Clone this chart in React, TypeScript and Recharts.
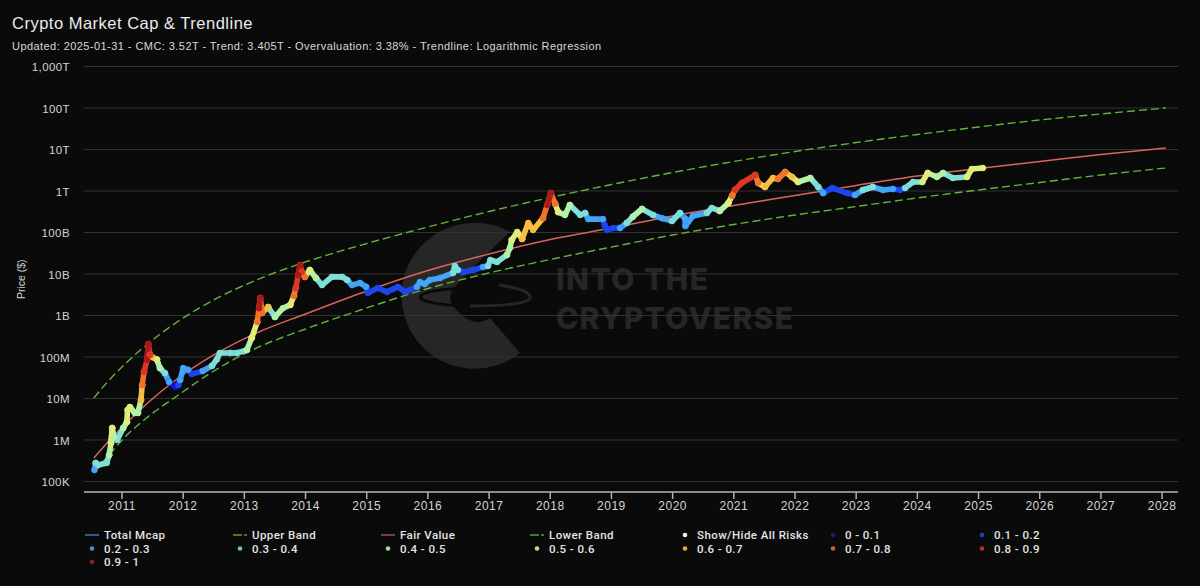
import { CartesianGrid, ComposedChart, Line, XAxis, YAxis } from "recharts";

const FONT = '"Liberation Sans", Arial, sans-serif';
const BG = "#0a0a0a";

const xTicks = [2011, 2012, 2013, 2014, 2015, 2016, 2017, 2018, 2019, 2020, 2021, 2022, 2023, 2024, 2025, 2026, 2027, 2028];
const yTicks = [1e5, 1e6, 1e7, 1e8, 1e9, 1e10, 1e11, 1e12, 1e13, 1e14, 1e15];
const yLabels = ["100K", "1M", "10M", "100M", "1B", "10B", "100B", "1T", "10T", "100T", "1,000T"];

// trend lines
const bandYears = [2010.54, 2010.8, 2011.05, 2011.4, 2011.9, 2012.5, 2013.2, 2014, 2015, 2016, 2017, 2018, 2019, 2020, 2021, 2022, 2023, 2024, 2025, 2026, 2027, 2028.06];
const upperBand = [1.03e7, 2.87e7, 6.8e7, 1.95e8, 6.97e8, 2.36e9, 7.2e9, 1.95e10, 5.43e10, 1.36e11, 3.21e11, 6.97e11, 1.43e12, 2.79e12, 5.14e12, 8.95e12, 1.47e13, 2.3e13, 3.49e13, 5.14e13, 7.2e13, 1e14];
const fairValue = [3.68e5, 1e6, 2.36e6, 7.37e6, 2.95e7, 1.12e8, 3.79e8, 1.09e9, 3.9e9, 1.21e10, 3.03e10, 6.8e10, 1.28e11, 2.5e11, 4.47e11, 7.79e11, 1.36e12, 2.3e12, 3.49e12, 5.14e12, 7.58e12, 1.09e13];
const lowerBand = [1.6e5, 4.6e5, 1.18e6, 3.39e6, 1.15e7, 4.6e7, 1.65e8, 4.73e8, 1.52e9, 4.47e9, 1.06e10, 2.24e10, 4.47e10, 8.7e10, 1.56e11, 2.64e11, 4.23e11, 6.8e11, 1.06e12, 1.6e12, 2.43e12, 3.58e12];

// total market cap and the risk bucket (0 = 0-0.1 ... 9 = 0.9-1) of each point
const mcapYears = [
  2010.55, 2010.57, 2010.61, 2010.75, 2010.79, 2010.82, 2010.84, 2010.87, 2010.92, 2011.02,
  2011.08, 2011.09, 2011.13, 2011.21, 2011.26, 2011.31, 2011.33, 2011.36, 2011.41, 2011.43,
  2011.46, 2011.49, 2011.57, 2011.62, 2011.7, 2011.77, 2011.87, 2011.92, 2011.95, 2012.0,
  2012.08, 2012.14, 2012.32, 2012.47, 2012.55, 2012.6, 2012.77, 2012.88, 2013.04, 2013.12,
  2013.21, 2013.24, 2013.26, 2013.29, 2013.39, 2013.5, 2013.63, 2013.75, 2013.81, 2013.84,
  2013.88, 2013.91, 2013.94, 2013.99, 2014.07, 2014.17, 2014.27, 2014.43, 2014.6, 2014.68,
  2014.76, 2014.89, 2014.99, 2015.02, 2015.18, 2015.33, 2015.51, 2015.63, 2015.82, 2015.87,
  2015.95, 2016.03, 2016.2, 2016.41, 2016.44, 2016.49, 2016.57, 2016.74, 2016.9, 2016.98,
  2017.02, 2017.13, 2017.29, 2017.34, 2017.37, 2017.46, 2017.54, 2017.64, 2017.72, 2017.88,
  2017.95, 2018.01, 2018.08, 2018.13, 2018.24, 2018.32, 2018.49, 2018.57, 2018.62, 2018.86,
  2018.89, 2018.93, 2019.03, 2019.14, 2019.25, 2019.35, 2019.5, 2019.68, 2019.83, 2019.99,
  2020.12, 2020.2, 2020.21, 2020.33, 2020.56, 2020.64, 2020.77, 2020.91, 2020.97, 2021.02,
  2021.13, 2021.35, 2021.4, 2021.51, 2021.64, 2021.72, 2021.84, 2021.95, 2022.05, 2022.25,
  2022.38, 2022.46, 2022.61, 2022.85, 2022.98, 2023.11, 2023.27, 2023.44, 2023.6, 2023.72,
  2023.8, 2023.93, 2024.08, 2024.17, 2024.32, 2024.42, 2024.58, 2024.81, 2024.89, 2025.07,
];
const mcapValues = [
  1.9e5, 2.8e5, 2.5e5, 2.8e5, 4.35e5, 8.5e5, 1.95e6, 1.18e6, 1.0e6, 1.95e6,
  2.7e6, 5.3e6, 6.2e6, 4.5e6, 4.5e6, 9.2e6, 2.1e7, 4.35e7, 8.5e7, 2.06e8,
  1.12e8, 1.0e8, 8.7e7, 5.4e7, 4.1e7, 2.5e7, 1.9e7, 2.1e7, 2.8e7, 5.4e7,
  4.9e7, 3.9e7, 4.6e7, 6.1e7, 8.7e7, 1.25e8, 1.25e8, 1.25e8, 1.47e8, 2.87e8,
  7e8, 1.5e9, 2.64e9, 1.15e9, 1.6e9, 9.2e8, 1.5e9, 1.8e9, 2.95e9, 4.6e9,
  9.4e9, 1.65e10, 1.12e10, 8.5e9, 1.25e10, 8e9, 5.4e9, 8.5e9, 8.5e9, 7.2e9,
  5.4e9, 6.1e9, 4.9e9, 3.5e9, 4.6e9, 3.7e9, 4.9e9, 3.7e9, 4.9e9, 6.4e9,
  5.7e9, 7.2e9, 8e9, 1.06e10, 1.56e10, 1.25e10, 1.12e10, 1.25e10, 1.47e10, 1.56e10,
  2.18e10, 1.95e10, 2.87e10, 4.23e10, 6.6e10, 1.03e11, 7e10, 1.7e11, 1.15e11, 2.2e11,
  4.6e11, 8.9e11, 4.9e11, 3.1e11, 2.64e11, 4.6e11, 2.64e11, 2.95e11, 2.1e11, 2.1e11,
  1.5e11, 1.15e11, 1.28e11, 1.28e11, 1.7e11, 2.4e11, 3.7e11, 2.64e11, 2.2e11, 1.9e11,
  2.95e11, 2.2e11, 1.43e11, 2.5e11, 2.95e11, 3.9e11, 3.3e11, 5.1e11, 7.6e11, 1.06e12,
  1.56e12, 2.43e12, 1.56e12, 1.25e12, 2.06e12, 1.95e12, 2.87e12, 2.18e12, 1.65e12, 2.06e12,
  1.25e12, 8.9e11, 1.18e12, 8.9e11, 8e11, 1.06e12, 1.25e12, 1.06e12, 1.12e12, 1.06e12,
  1.18e12, 1.65e12, 1.65e12, 2.71e12, 2.18e12, 2.71e12, 2.06e12, 2.18e12, 3.39e12, 3.58e12,
];
const mcapRisks = [
  2, 2, 3, 3, 3, 4, 5, 4, 3, 3,
  4, 5, 5, 4, 3, 4, 6, 7, 8, 9,
  8, 6, 5, 4, 3, 2, 0, 0, 1, 2,
  2, 1, 1, 2, 3, 3, 3, 2, 3, 4,
  5, 7, 9, 7, 6, 3, 4, 4, 5, 7,
  8, 9, 8, 7, 5, 4, 3, 3, 3, 3,
  2, 2, 2, 1, 1, 1, 1, 1, 1, 2,
  2, 2, 2, 2, 3, 3, 1, 1, 1, 2,
  3, 3, 3, 4, 4, 5, 5, 6, 6, 6,
  7, 9, 7, 5, 4, 4, 3, 3, 2, 2,
  1, 0, 1, 1, 2, 3, 4, 3, 2, 2,
  3, 2, 1, 2, 2, 3, 3, 4, 5, 7,
  8, 8, 7, 5, 6, 6, 7, 6, 5, 4,
  3, 2, 1, 1, 1, 2, 3, 2, 2, 1,
  1, 3, 3, 5, 4, 4, 3, 3, 5, 5,
];

const riskColors = ["#1414c8", "#1c46ea", "#45a5f5", "#7fe0d8", "#b4f2a6", "#e2ec78", "#f8bc42", "#f0702a", "#dc3526", "#a81a1a"];
const riskLabels = ["0 - 0.1", "0.1 - 0.2", "0.2 - 0.3", "0.3 - 0.4", "0.4 - 0.5", "0.5 - 0.6", "0.6 - 0.7", "0.7 - 0.8", "0.8 - 0.9", "0.9 - 1"];
const legendDimColors = ["#1a1a90", "#2440c0", "#3f93d8", "#6fc4bc", "#a5dca0", "#cfd872", "#e0aa40", "#cf6428", "#b93228", "#8a2020"];

const legendColumns = [104, 252, 400, 549, 697, 845, 994];
const legendRows = [535, 548.5, 562];
const legendItems = [
  { label: "Total Mcap", kind: "line", color: "#3f74b4" },
  { label: "Upper Band", kind: "dash", color: "#58a030" },
  { label: "Fair Value", kind: "line", color: "#b04a48" },
  { label: "Lower Band", kind: "dash", color: "#58a030" },
  { label: "Show/Hide All Risks", kind: "dot", color: "#f0f0f0" },
  ...riskLabels.map((label, i) => ({ label, kind: "dot", color: legendDimColors[i] })),
];

const bandRows = bandYears.map((year, i) => ({
  year,
  upper: upperBand[i],
  fair: fairValue[i],
  lower: lowerBand[i],
}));
const mcapRows = mcapYears.map((year, i) => ({ year, value: mcapValues[i] }));

// one series per bucket, a point is kept when it starts or ends a segment of that bucket
function riskRows(bucket: number) {
  return mcapYears.map((year, i) => ({
    year,
    value: mcapRisks[i] === bucket || mcapRisks[i + 1] === bucket ? mcapValues[i] : null,
  }));
}

function Watermark() {
  const grey = "#262626";
  return (
    <svg width={1200} height={586} style={{ position: "absolute", left: 0, top: 0 }}>
      <path
        d="M510 232 A73 73 0 1 0 520 353 L490 318 Q472 330 453 306 Q446 296 456 285 Q478 262 510 232 Z"
        fill={grey}
      />
      <ellipse cx={475} cy={297} rx={55} ry={9} fill="none" stroke={BG} strokeWidth={3} />
      <path d="M499 285 Q532 290 530 298 Q526 306 470 306" fill="none" stroke={grey} strokeWidth={3} />
      <text x={556} y={290} fontFamily="Inter, sans-serif" fontWeight={800} fontSize={30} fill={grey} textLength={152}>
        INTO THE
      </text>
      <text x={556} y={329} fontFamily="Inter, sans-serif" fontWeight={800} fontSize={30} fill={grey} textLength={237}>
        CRYPTOVERSE
      </text>
    </svg>
  );
}

function ChartLegend() {
  return (
    <svg width={1200} height={586} style={{ position: "absolute", left: 0, top: 0, pointerEvents: "none" }}>
      {legendItems.map((item, i) => {
        const x = legendColumns[i % 7];
        const y = legendRows[Math.floor(i / 7)];
        return (
          <g key={item.label}>
            {item.kind === "dot" ? (
              <circle cx={x - 12} cy={y} r={2.3} fill={item.color} />
            ) : (
              <line
                x1={x - 19}
                x2={x - 5}
                y1={y}
                y2={y}
                stroke={item.color}
                strokeWidth={1.5}
                strokeDasharray={item.kind === "dash" ? "9 2 2 0" : undefined}
              />
            )}
            <text x={x} y={y + 4} fontFamily="Roboto, sans-serif" fontSize={11.5} fill="#e4e4e4" letterSpacing={0.42} fontWeight={500}>
              {item.label}
            </text>
          </g>
        );
      })}
    </svg>
  );
}

export default function App() {
  return (
    <div style={{ position: "absolute", left: 0, top: 0, width: 1200, height: 586, background: BG, overflow: "hidden" }}>
      <Watermark />
      <div style={{ position: "absolute", left: 12, top: 14, fontFamily: FONT, fontSize: 16.5, color: "#ececec", letterSpacing: 0.5, whiteSpace: "nowrap" }}>
        Crypto Market Cap &amp; Trendline
      </div>
      <div style={{ position: "absolute", left: 12, top: 40, fontFamily: FONT, fontSize: 11, color: "#d8d8d8", letterSpacing: 0.44, whiteSpace: "nowrap" }}>
        Updated: 2025-01-31 - CMC: 3.52T - Trend: 3.405T - Overvaluation: 3.38% - Trendline: Logarithmic Regression
      </div>
      <div style={{ position: "absolute", left: 0, top: 0 }}>
        <ComposedChart width={1200} height={586} margin={{ top: 66.5, right: 22, bottom: 64, left: 24 }}>
          <CartesianGrid horizontal vertical={false} stroke="#333333" strokeWidth={1} />
          <XAxis
            type="number"
            dataKey="year"
            domain={[2010.379, 2028.26]}
            ticks={xTicks}
            allowDataOverflow
            interval={0}
            height={30}
            stroke="#b0b0b0"
            strokeWidth={1.5}
            tickSize={7}
            tickFormatter={(v: number) => String(v)}
            tick={{ fill: "#d4d4d4", fontSize: 12, fontFamily: FONT, letterSpacing: 0.5 }}
          />
          <YAxis
            type="number"
            scale="log"
            domain={[55800, 1e15]}
            ticks={yTicks}
            allowDataOverflow
            interval={0}
            width={60}
            axisLine={false}
            tickLine={false}
            tickMargin={8}
            tickFormatter={(v: number) => yLabels[yTicks.indexOf(v)]}
            tick={{ fill: "#d4d4d4", fontSize: 11.5, fontFamily: FONT, letterSpacing: 0.4, dy: 0.5 }}
            label={{
              value: "Price ($)",
              angle: -90,
              position: "insideLeft",
              offset: -3,
              style: { fill: "#d4d4d4", fontSize: 10.5, fontFamily: FONT, textAnchor: "middle" },
            }}
          />
          <Line data={bandRows} dataKey="upper" name="Upper Band" stroke="#62b53a" strokeWidth={1.4} strokeDasharray="8 4" type="monotone" dot={false} activeDot={false} isAnimationActive={false} />
          <Line data={bandRows} dataKey="lower" name="Lower Band" stroke="#62b53a" strokeWidth={1.4} strokeDasharray="8 4" type="monotone" dot={false} activeDot={false} isAnimationActive={false} />
          <Line data={bandRows} dataKey="fair" name="Fair Value" stroke="#d8645e" strokeWidth={1.5} type="monotone" dot={false} activeDot={false} isAnimationActive={false} />
          <Line data={mcapRows} dataKey="value" name="Total Mcap" stroke="#3f74b4" strokeWidth={1} type="linear" dot={false} activeDot={false} isAnimationActive={false} />
          {riskColors.map((color, bucket) => (
            <Line
              key={riskLabels[bucket]}
              data={riskRows(bucket)}
              dataKey="value"
              name={riskLabels[bucket]}
              stroke={color}
              strokeWidth={5.6}
              strokeLinecap="round"
              strokeLinejoin="round"
              type="linear"
              dot={{ r: 3, fill: color, stroke: color, strokeWidth: 0.5 }}
              activeDot={false}
              isAnimationActive={false}
            />
          ))}
        </ComposedChart>
      </div>
      <ChartLegend />
    </div>
  );
}
